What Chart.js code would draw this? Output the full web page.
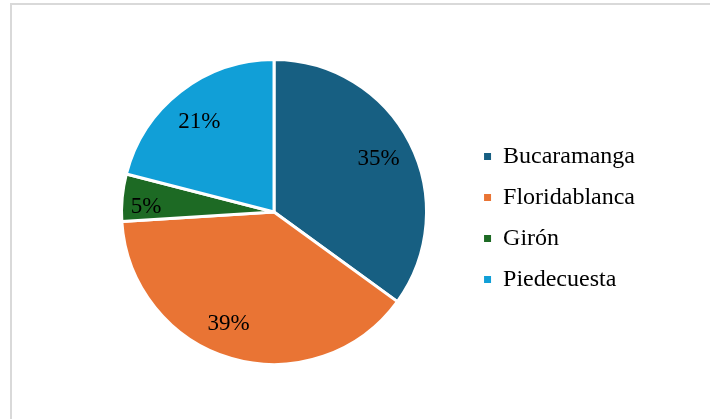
<!DOCTYPE html>
<html lang="es">
  <head>
    <meta charset="UTF-8" />
    <title>Distribución por municipio</title>
    <script src="https://cdn.jsdelivr.net/npm/chart.js"></script>
    <style>
      body {
        margin: 0;
        background: #fff;
        width: 710px;
        height: 419px;
        overflow: hidden;
        position: relative;
      }
      .frame {
        position: absolute;
        left: 10px;
        top: 3px;
        width: 720px;
        height: 430px;
        border-top: 2px solid #d9d9d9;
        border-left: 2px solid #d9d9d9;
      }
      #wrap {
        position: absolute;
        left: 0;
        top: 0;
        width: 710px;
        height: 419px;
      }
    </style>
  </head>
  <body>
    <div class="frame"></div>
    <div id="wrap"><canvas id="pie"></canvas></div>
    <script>
      const municipios = ["Bucaramanga", "Floridablanca", "Girón", "Piedecuesta"];
      const porcentajes = [35, 39, 5, 21];
      const colores = ["#175f82", "#e97434", "#1d6a24", "#119fd7"];

      // best-fit style placement of the % labels (radius factor, angle nudge in deg)
      const labelFit = [
        [0.77, 0],
        [0.79, 6],
        [0.84, -3],
        [0.765, -2],
      ];

      const pctLabels = {
        id: "pctLabels",
        afterDatasetsDraw(chart) {
          const ctx = chart.ctx;
          const data = chart.data.datasets[0].data;
          const total = data.reduce((a, b) => a + b, 0);
          const arcs = chart.getDatasetMeta(0).data;
          ctx.save();
          ctx.font = "23px 'Liberation Serif', 'Times New Roman', serif";
          ctx.fillStyle = "#000";
          ctx.textAlign = "center";
          ctx.textBaseline = "middle";
          arcs.forEach((arc, i) => {
            const p = arc.getProps(["x", "y", "startAngle", "endAngle", "outerRadius"], true);
            const [f, nudge] = labelFit[i];
            const mid = (p.startAngle + p.endAngle) / 2 + (nudge * Math.PI) / 180;
            const r = p.outerRadius * f;
            const txt = Math.round((data[i] / total) * 100) + "%";
            ctx.fillText(txt, p.x + Math.cos(mid) * r, p.y + Math.sin(mid) * r);
          });
          ctx.restore();
        },
      };

      new Chart(document.getElementById("pie"), {
        type: "pie",
        data: {
          labels: municipios,
          datasets: [
            {
              data: porcentajes,
              backgroundColor: colores,
              borderColor: "#ffffff",
              borderWidth: 3,
            },
          ],
        },
        options: {
          responsive: true,
          maintainAspectRatio: false,
          animation: false,
          layout: {
            padding: { left: 81, right: 65, top: 58, bottom: 53 },
          },
          plugins: {
            tooltip: { enabled: false },
            legend: {
              position: "right",
              align: "center",
              title: {
                display: true,
                text: " ",
                padding: 0,
                font: { size: 10 },
              },
              labels: {
                boxWidth: 7,
                boxHeight: 7,
                padding: 17,
                color: "#000",
                font: {
                  family: "'Liberation Serif', 'Times New Roman', serif",
                  size: 24,
                },
                generateLabels(chart) {
                  const base = Chart.overrides.pie.plugins.legend.labels.generateLabels(chart);
                  return base.map((l) => ({ ...l, lineWidth: 0, strokeStyle: l.fillStyle }));
                },
              },
            },
          },
        },
        plugins: [pctLabels],
      });
    </script>
  </body>
</html>
